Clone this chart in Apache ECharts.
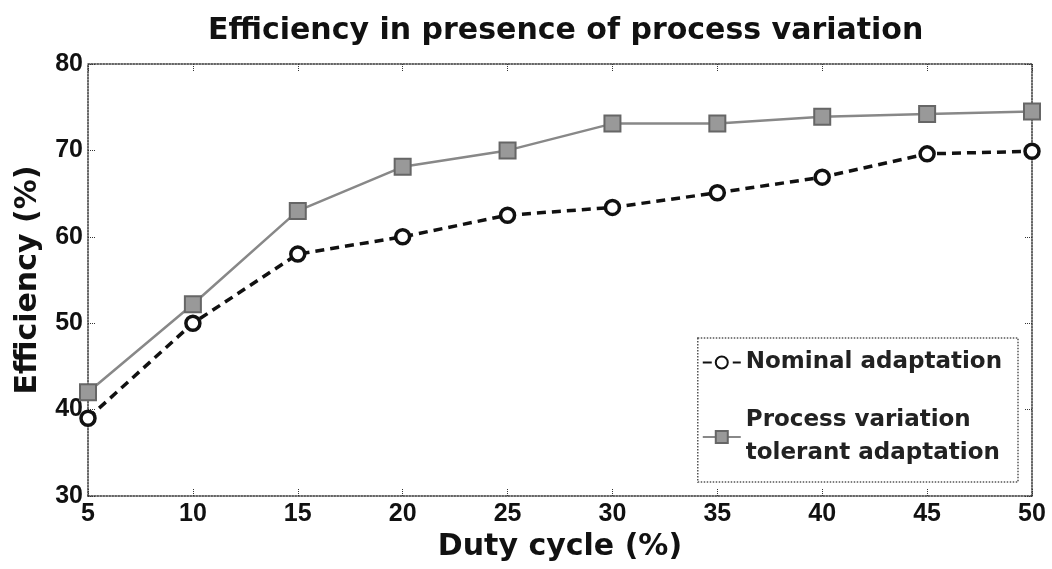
<!DOCTYPE html>
<html>
<head>
<meta charset="utf-8">
<script src="https://cdn.jsdelivr.net/npm/echarts@6/dist/echarts.min.js"></script>
<style>
  html, body { margin: 0; padding: 0; background: #fff; }
  #main { width: 1052px; height: 569px; }
</style>
</head>
<body>
<div id="main"></div>
<script>
var dutyCycle = [5, 10, 15, 20, 25, 30, 35, 40, 45, 50];
var nominal = [39, 50, 58, 60, 62.5, 63.4, 65.1, 66.9, 69.6, 69.9];
var tolerant = [42, 52.2, 63, 68.1, 70, 73.1, 73.1, 73.9, 74.2, 74.5];
var seriesNames = ['Nominal adaptation', 'Process variation tolerant adaptation'];

function pairs(xs, ys) {
  var out = [];
  for (var i = 0; i < xs.length; i++) out.push([xs[i], ys[i]]);
  return out;
}

var wideFont = 'DejaVu Sans';
var tickFont = 'Liberation Sans';
var lineCol = '#333';

var chart = echarts.init(document.getElementById('main'));
var option = {
  backgroundColor: '#fff',
  animation: false,
  title: {
    text: 'Efficiency in presence of process variation',
    left: 203,
    top: 11,
    textStyle: { fontFamily: wideFont, fontWeight: 'bold', fontSize: 30, color: '#111' }
  },
  grid: { left: 88, right: 20, top: 64, bottom: 73, outerBoundsMode: 'none' },
  legend: {
    orient: 'vertical',
    right: 34,
    bottom: 87,
    itemWidth: 38,
    itemHeight: 15,
    itemGap: 25,
    padding: [8, 16, 12, 4],
    backgroundColor: '#fff',
    borderColor: '#555',
    borderWidth: 1.5,
    borderType: 'dotted',
    textStyle: { fontFamily: wideFont, fontWeight: 'bold', fontSize: 23, color: '#222', lineHeight: 33 },
    formatter: function (name) {
      return name === seriesNames[1] ? 'Process variation\ntolerant adaptation' : name;
    },
    data: seriesNames
  },
  xAxis: [{
    type: 'value', min: 5, max: 50, interval: 5,
    name: 'Duty cycle (%)', nameLocation: 'middle', nameGap: 35,
    nameTextStyle: { fontFamily: wideFont, fontWeight: 'bold', fontSize: 30, color: '#111' },
    axisLine: { onZero: false, lineStyle: { color: lineCol, width: 1.5, type: 'dotted' } },
    axisTick: { inside: true, length: 7, lineStyle: { color: lineCol, type: 'dotted' } },
    axisLabel: { fontFamily: tickFont, fontWeight: 'bold', fontSize: 25, color: '#111', margin: 6 },
    splitLine: { show: false }
  }, {
    type: 'value', min: 5, max: 50, interval: 5, position: 'top',
    axisLine: { onZero: false, lineStyle: { color: lineCol, width: 1.5, type: 'dotted' } },
    axisTick: { inside: true, length: 7, lineStyle: { color: lineCol, type: 'dotted' } },
    axisLabel: { show: false },
    splitLine: { show: false }
  }],
  yAxis: [{
    type: 'value', min: 30, max: 80, interval: 10,
    name: 'Efficiency (%)', nameLocation: 'middle', nameGap: 45,
    nameTextStyle: { fontFamily: wideFont, fontWeight: 'bold', fontSize: 30, color: '#111' },
    axisLine: { show: true, onZero: false, lineStyle: { color: lineCol, width: 1.5, type: 'dotted' } },
    axisTick: { show: true, inside: true, length: 7, lineStyle: { color: lineCol, type: 'dotted' } },
    axisLabel: { fontFamily: tickFont, fontWeight: 'bold', fontSize: 25, color: '#111', margin: 5 },
    splitLine: { show: false }
  }, {
    type: 'value', min: 30, max: 80, interval: 10, position: 'right',
    axisLine: { show: true, onZero: false, lineStyle: { color: lineCol, width: 1.5, type: 'dotted' } },
    axisTick: { show: true, inside: true, length: 7, lineStyle: { color: lineCol, type: 'dotted' } },
    axisLabel: { show: false },
    splitLine: { show: false }
  }],
  series: [{
    name: seriesNames[0],
    type: 'line',
    data: pairs(dutyCycle, nominal),
    symbol: 'circle',
    symbolSize: 14,
    z: 3,
    lineStyle: { color: '#111', width: 3.5, type: [9, 6] },
    itemStyle: { color: '#fff', borderColor: '#111', borderWidth: 3.5 }
  }, {
    name: seriesNames[1],
    type: 'line',
    data: pairs(dutyCycle, tolerant),
    symbol: 'rect',
    symbolSize: 16,
    z: 2,
    lineStyle: { color: '#888', width: 2.5 },
    itemStyle: { color: '#999', borderColor: '#666', borderWidth: 2 }
  }]
};
chart.setOption(option);
</script>
</body>
</html>
